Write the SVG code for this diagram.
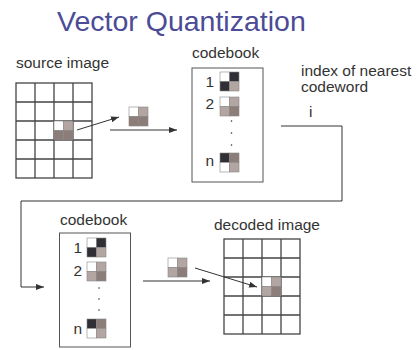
<svg xmlns="http://www.w3.org/2000/svg" width="420" height="350" viewBox="0 0 420 350">
<style>
text{font-family:"Liberation Sans",Arial,sans-serif;fill:#333;font-size:15.5px}
.title{fill:#4b4b96;font-size:28.5px}
.grid{fill:none;stroke:#444;stroke-width:1.3}
.box{fill:#fff;stroke:#555;stroke-width:1}
.q{stroke:#888;stroke-width:0.6}
.w{fill:#fff}.d{fill:#2f2f35}.m{fill:#8c7d79}.l{fill:#b3a6a2}
.conn{fill:none;stroke:#333;stroke-width:1}
.dot{fill:#333}
</style>
<defs>
<marker id="ah" viewBox="0 0 8 6" refX="8" refY="3" markerWidth="8" markerHeight="6" markerUnits="userSpaceOnUse" orient="auto">
<path d="M0,0 L8,3 L0,6 z" fill="#333"/>
</marker>
</defs>
<rect width="420" height="350" fill="#fff"/>
<text class="title" x="57" y="31">Vector Quantization</text>

<g id="source">
<text x="16" y="68">source image</text>
<g class="grid">
<rect x="16" y="83" width="76" height="95"/>
<path d="M35,83V178M54,83V178M73,83V178M16,102H92M16,121H92M16,140H92M16,159H92"/>
</g>
<rect class="q w" x="54" y="121" width="9.5" height="9.5"/>
<rect class="q l" x="63.5" y="121" width="9.5" height="9.5"/>
<rect class="q m" x="54" y="130.5" width="9.5" height="9.5"/>
<rect class="q m" x="63.5" y="130.5" width="9.5" height="9.5"/>
</g>

<g id="vector">
<rect class="q w" x="129" y="107" width="9.5" height="9.5"/>
<rect class="q l" x="138.5" y="107" width="9.5" height="9.5"/>
<rect class="q m" x="129" y="116.5" width="9.5" height="9.5"/>
<rect class="q m" x="138.5" y="116.5" width="9.5" height="9.5"/>
</g>

<g id="codebook1">
<text x="192" y="58">codebook</text>
<rect class="box" x="192" y="68" width="71" height="114"/>
<text x="214" y="87" text-anchor="end">1</text>
<rect class="q w" x="220" y="72" width="9.5" height="9.5"/>
<rect class="q d" x="229.5" y="72" width="9.5" height="9.5"/>
<rect class="q d" x="220" y="81.5" width="9.5" height="9.5"/>
<rect class="q l" x="229.5" y="81.5" width="9.5" height="9.5"/>
<text x="214" y="109" text-anchor="end">2</text>
<rect class="q w" x="220" y="97" width="9.5" height="9.5"/>
<rect class="q l" x="229.5" y="97" width="9.5" height="9.5"/>
<rect class="q l" x="220" y="106.5" width="9.5" height="9.5"/>
<rect class="q m" x="229.5" y="106.5" width="9.5" height="9.5"/>
<circle class="dot" cx="231.5" cy="121" r="0.8"/>
<circle class="dot" cx="231.5" cy="133" r="0.8"/>
<circle class="dot" cx="231.5" cy="145" r="0.8"/>
<text x="214" y="166" text-anchor="end">n</text>
<rect class="q d" x="220" y="153" width="9.5" height="9.5"/>
<rect class="q m" x="229.5" y="153" width="9.5" height="9.5"/>
<rect class="q w" x="220" y="162.5" width="9.5" height="9.5"/>
<rect class="q l" x="229.5" y="162.5" width="9.5" height="9.5"/>
</g>

<g id="index">
<text x="301" y="76">index of nearest</text>
<text x="301" y="92">codeword</text>
<text x="309" y="117">i</text>
</g>

<g id="codebook2">
<text x="60" y="225">codebook</text>
<rect class="box" x="59.5" y="233" width="71" height="114"/>
<text x="82" y="253" text-anchor="end">1</text>
<rect class="q w" x="87" y="238" width="9.5" height="9.5"/>
<rect class="q d" x="96.5" y="238" width="9.5" height="9.5"/>
<rect class="q d" x="87" y="247.5" width="9.5" height="9.5"/>
<rect class="q l" x="96.5" y="247.5" width="9.5" height="9.5"/>
<text x="82" y="276" text-anchor="end">2</text>
<rect class="q w" x="87" y="262" width="9.5" height="9.5"/>
<rect class="q l" x="96.5" y="262" width="9.5" height="9.5"/>
<rect class="q l" x="87" y="271.5" width="9.5" height="9.5"/>
<rect class="q m" x="96.5" y="271.5" width="9.5" height="9.5"/>
<circle class="dot" cx="99" cy="288" r="0.8"/>
<circle class="dot" cx="99" cy="299" r="0.8"/>
<circle class="dot" cx="99" cy="310" r="0.8"/>
<text x="82" y="334" text-anchor="end">n</text>
<rect class="q d" x="87" y="319" width="9.5" height="9.5"/>
<rect class="q m" x="96.5" y="319" width="9.5" height="9.5"/>
<rect class="q w" x="87" y="328.5" width="9.5" height="9.5"/>
<rect class="q l" x="96.5" y="328.5" width="9.5" height="9.5"/>
</g>

<g id="vector2">
<rect class="q w" x="168" y="258" width="9.5" height="9.5"/>
<rect class="q l" x="177.5" y="258" width="9.5" height="9.5"/>
<rect class="q l" x="168" y="267.5" width="9.5" height="9.5"/>
<rect class="q m" x="177.5" y="267.5" width="9.5" height="9.5"/>
</g>

<g id="decoded">
<text x="214" y="230">decoded image</text>
<g class="grid">
<rect x="224" y="239" width="76" height="95"/>
<path d="M243,239V334M262,239V334M281,239V334M224,258H300M224,277H300M224,296H300M224,315H300"/>
</g>
<rect class="q w" x="262" y="277" width="9.5" height="9.5"/>
<rect class="q l" x="271.5" y="277" width="9.5" height="9.5"/>
<rect class="q l" x="262" y="286.5" width="9.5" height="9.5"/>
<rect class="q m" x="271.5" y="286.5" width="9.5" height="9.5"/>
</g>

<g id="connectors">
<path class="conn" d="M77,130L119,117" marker-end="url(#ah)"/>
<path class="conn" d="M110,130H177" marker-end="url(#ah)"/>
<path class="conn" d="M281,126H342V201H21V287H44" marker-end="url(#ah)"/>
<path class="conn" d="M143,281H210" marker-end="url(#ah)"/>
<path class="conn" d="M195,268L257,287" marker-end="url(#ah)"/>
</g>
</svg>
